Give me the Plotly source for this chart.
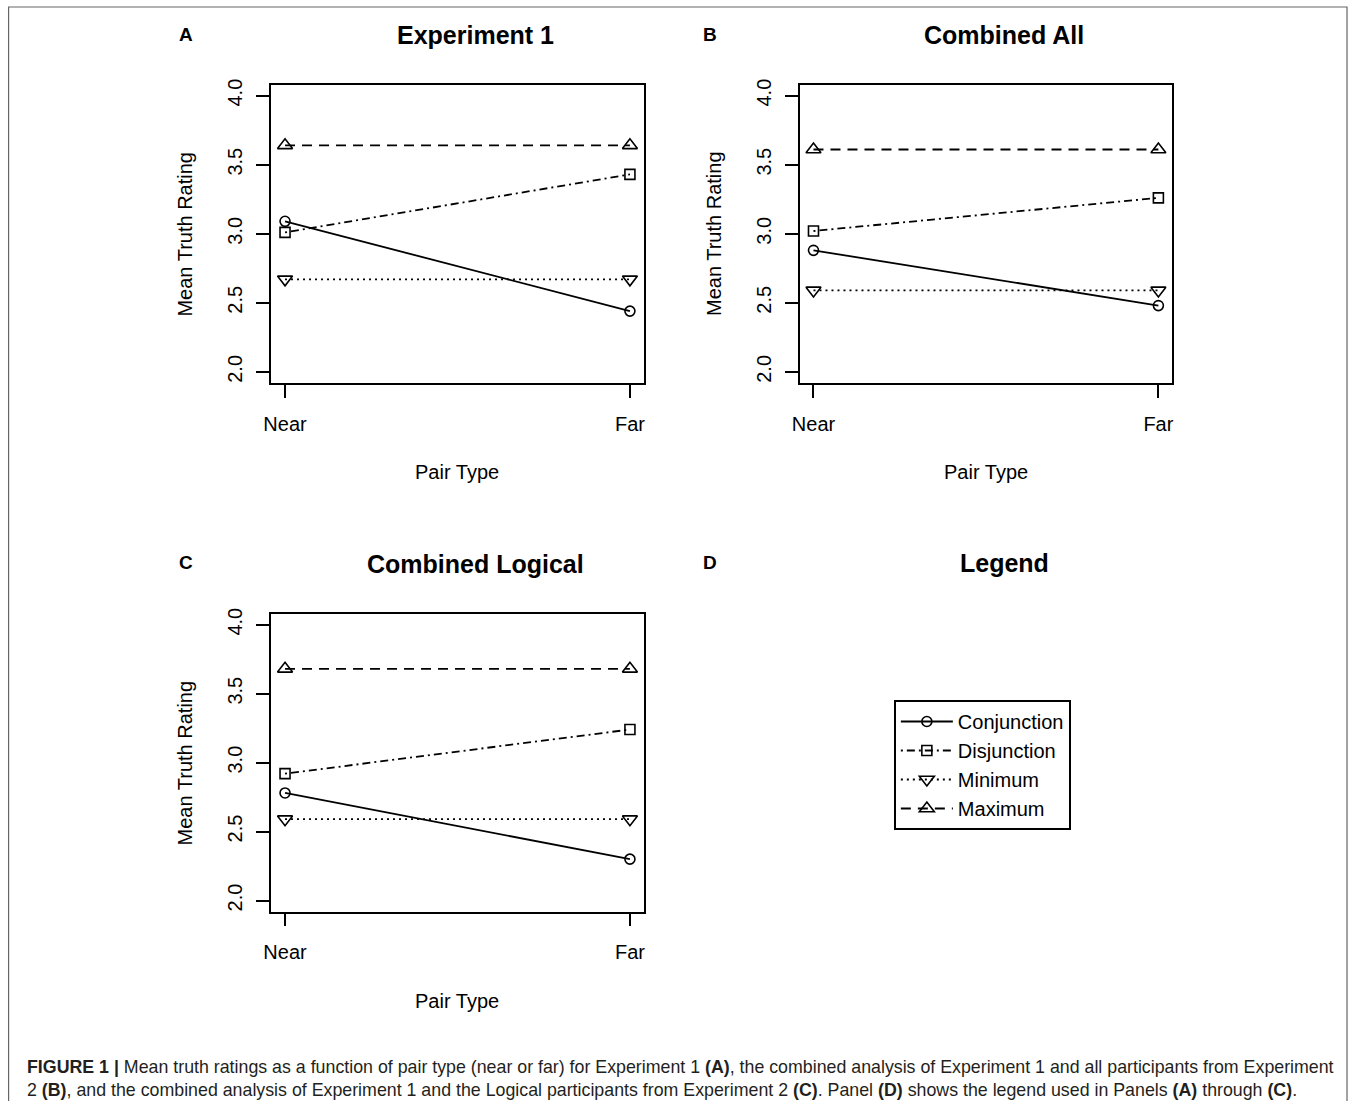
import plotly.graph_objects as go

# The page body keeps an 8px margin, so the figure is sized to end exactly
# at the window edge and every reference pixel position is shifted by OFF.
OFF = 8
W, H = 1358 - OFF, 1109 - OFF

pair_types = ["Near", "Far"]
series_names = ["Conjunction", "Disjunction", "Minimum", "Maximum"]

panel_titles = ["Experiment 1", "Combined All", "Combined Logical"]
panel_letters = ["A", "B", "C", "D"]

# Mean truth ratings [Near, Far]
exp1 = {
    "Conjunction": [3.09, 2.44],
    "Disjunction": [3.01, 3.43],
    "Minimum": [2.67, 2.67],
    "Maximum": [3.64, 3.64],
}
combined_all = {
    "Conjunction": [2.88, 2.48],
    "Disjunction": [3.02, 3.26],
    "Minimum": [2.59, 2.59],
    "Maximum": [3.61, 3.61],
}
combined_logical = {
    "Conjunction": [2.78, 2.30],
    "Disjunction": [2.92, 3.24],
    "Minimum": [2.59, 2.59],
    "Maximum": [3.68, 3.68],
}
panels_data = [exp1, combined_all, combined_logical]

y_ticks = [2.0, 2.5, 3.0, 3.5, 4.0]

styles = {
    "Conjunction": dict(dash="solid", symbol="circle-open", size=10),
    "Disjunction": dict(dash="2px,4px,8px,4px", symbol="square-open", size=10),
    "Minimum": dict(dash="2px,4px", symbol="triangle-down-open", size=13),
    "Maximum": dict(dash="10px,7px", symbol="triangle-up-open", size=13),
}

FONT = "Liberation Sans, Arial, Helvetica, sans-serif"


def px_x(p):
    return (p - OFF) / W


def px_y(p):
    return 1 - (p - OFF) / H


# panel boxes in reference pixels: (x0, x1, ytop, ybottom)
boxes = [
    (273, 648, 87, 387),
    (805, 1180, 87, 387),
    (273, 648, 619, 918.5),
    (805, 1180, 619, 918.5),
]

fig = go.Figure()

for i, data in enumerate(panels_data):
    ax = "" if i == 0 else str(i + 1)
    for name in series_names:
        st = styles[name]
        fig.add_trace(go.Scatter(
            x=pair_types, y=data[name], name=name,
            mode="lines+markers",
            line=dict(color="black", width=1.8, dash=st["dash"]),
            marker=dict(symbol=st["symbol"], size=st["size"], color="black",
                        line=dict(color="black", width=1.6)),
            xaxis="x" + ax, yaxis="y" + ax,
            legendgroup=name, showlegend=(i == 0),
        ))

layout = dict(
    width=W, height=H,
    margin=dict(l=0, r=0, t=0, b=0),
    paper_bgcolor="white", plot_bgcolor="white",
    font=dict(family=FONT, size=20, color="black"),
    showlegend=True,
    legend=dict(
        x=px_x(900), y=px_y(706), xanchor="left", yanchor="top",
        bordercolor="black", borderwidth=1.8, bgcolor="white",
        font=dict(size=20, family=FONT, color="black"),
        itemwidth=52, tracegroupgap=0,
    ),
)

for i, (x0, x1, yt, yb) in enumerate(boxes):
    ax = "" if i == 0 else str(i + 1)
    xa = dict(
        domain=[px_x(x0), px_x(x1)], anchor="y" + ax,
        showline=True, mirror=True, linecolor="black", linewidth=1.8,
        showgrid=False, zeroline=False,
    )
    ya = dict(
        domain=[px_y(yb), px_y(yt)], anchor="x" + ax,
        showline=True, mirror=True, linecolor="black", linewidth=1.8,
        showgrid=False, zeroline=False,
    )
    if i < 3:
        xa.update(type="category", categoryorder="array", categoryarray=pair_types,
                  range=[-0.04, 1.04], ticks="outside", ticklen=13, tickwidth=1.8,
                  tickcolor="black", ticklabelstandoff=9,
                  tickfont=dict(size=20, family=FONT, color="black"))
        ya.update(range=[1.92, 4.08], tickvals=y_ticks, tickformat=".1f",
                  ticks="outside", ticklen=13, tickwidth=1.8, tickcolor="black",
                  tickangle=-90, ticklabelstandoff=6,
                  tickfont=dict(size=20, family=FONT, color="black"))
    else:
        xa.update(showticklabels=False, ticks="", range=[0, 1])
        ya.update(showticklabels=False, ticks="", range=[0, 1])
    layout["xaxis" + ax] = xa
    layout["yaxis" + ax] = ya

fig.update_layout(**layout)

annotations = []
title_pos = [(479, 37), (1011, 37), (479, 569), (1011, 568)]
titles_all = panel_titles + ["Legend"]
letter_pos = [(187, 37), (715, 37), (187, 568), (715, 568)]
for (tx, ty), t in zip(title_pos, titles_all):
    annotations.append(dict(x=px_x(tx), y=px_y(ty), xref="paper", yref="paper",
                            text="<b>" + t + "</b>", showarrow=False,
                            font=dict(size=25, family=FONT, color="black"),
                            xanchor="center", yanchor="middle"))
for (lx, ly), t in zip(letter_pos, panel_letters):
    annotations.append(dict(x=px_x(lx), y=px_y(ly), xref="paper", yref="paper",
                            text="<b>" + t + "</b>", showarrow=False,
                            font=dict(size=19, family=FONT, color="black"),
                            xanchor="center", yanchor="middle"))
# axis titles
for i, (x0, x1, yt, yb) in enumerate(boxes[:3]):
    annotations.append(dict(x=px_x((x0 + x1) / 2), y=px_y(yb + 90), xref="paper", yref="paper",
                            text="Pair Type", showarrow=False,
                            font=dict(size=20, family=FONT, color="black"),
                            xanchor="center", yanchor="middle"))
    annotations.append(dict(x=px_x(x0 - 87), y=px_y((yt + yb) / 2), xref="paper", yref="paper",
                            text="Mean Truth Rating", showarrow=False, textangle=-90,
                            font=dict(size=20, family=FONT, color="black"),
                            xanchor="center", yanchor="middle"))

caption_1 = ("<b>FIGURE 1 |</b> Mean truth ratings as a function of pair type (near or far) for "
             "Experiment 1 <b>(A)</b>, the combined analysis of Experiment 1 and all participants from Experiment")
caption_2 = ("2 <b>(B)</b>, and the combined analysis of Experiment 1 and the Logical participants from "
             "Experiment 2 <b>(C)</b>. Panel <b>(D)</b> shows the legend used in Panels <b>(A)</b> through <b>(C)</b>.")
for cy, ct in [(1075, caption_1), (1098, caption_2)]:
    annotations.append(dict(x=px_x(25), y=px_y(cy), xref="paper", yref="paper",
                            text=ct, showarrow=False, align="left",
                            font=dict(size=17.8, family=FONT, color="#231f20"),
                            xanchor="left", yanchor="middle"))

fig.update_layout(annotations=annotations)

fig.add_shape(type="rect", xref="paper", yref="paper",
              x0=px_x(8.6), x1=px_x(1356), y0=-0.05, y1=px_y(9),
              line=dict(color="#666666", width=1.2), fillcolor="rgba(0,0,0,0)", layer="below")

fig.write_html("out.html")
